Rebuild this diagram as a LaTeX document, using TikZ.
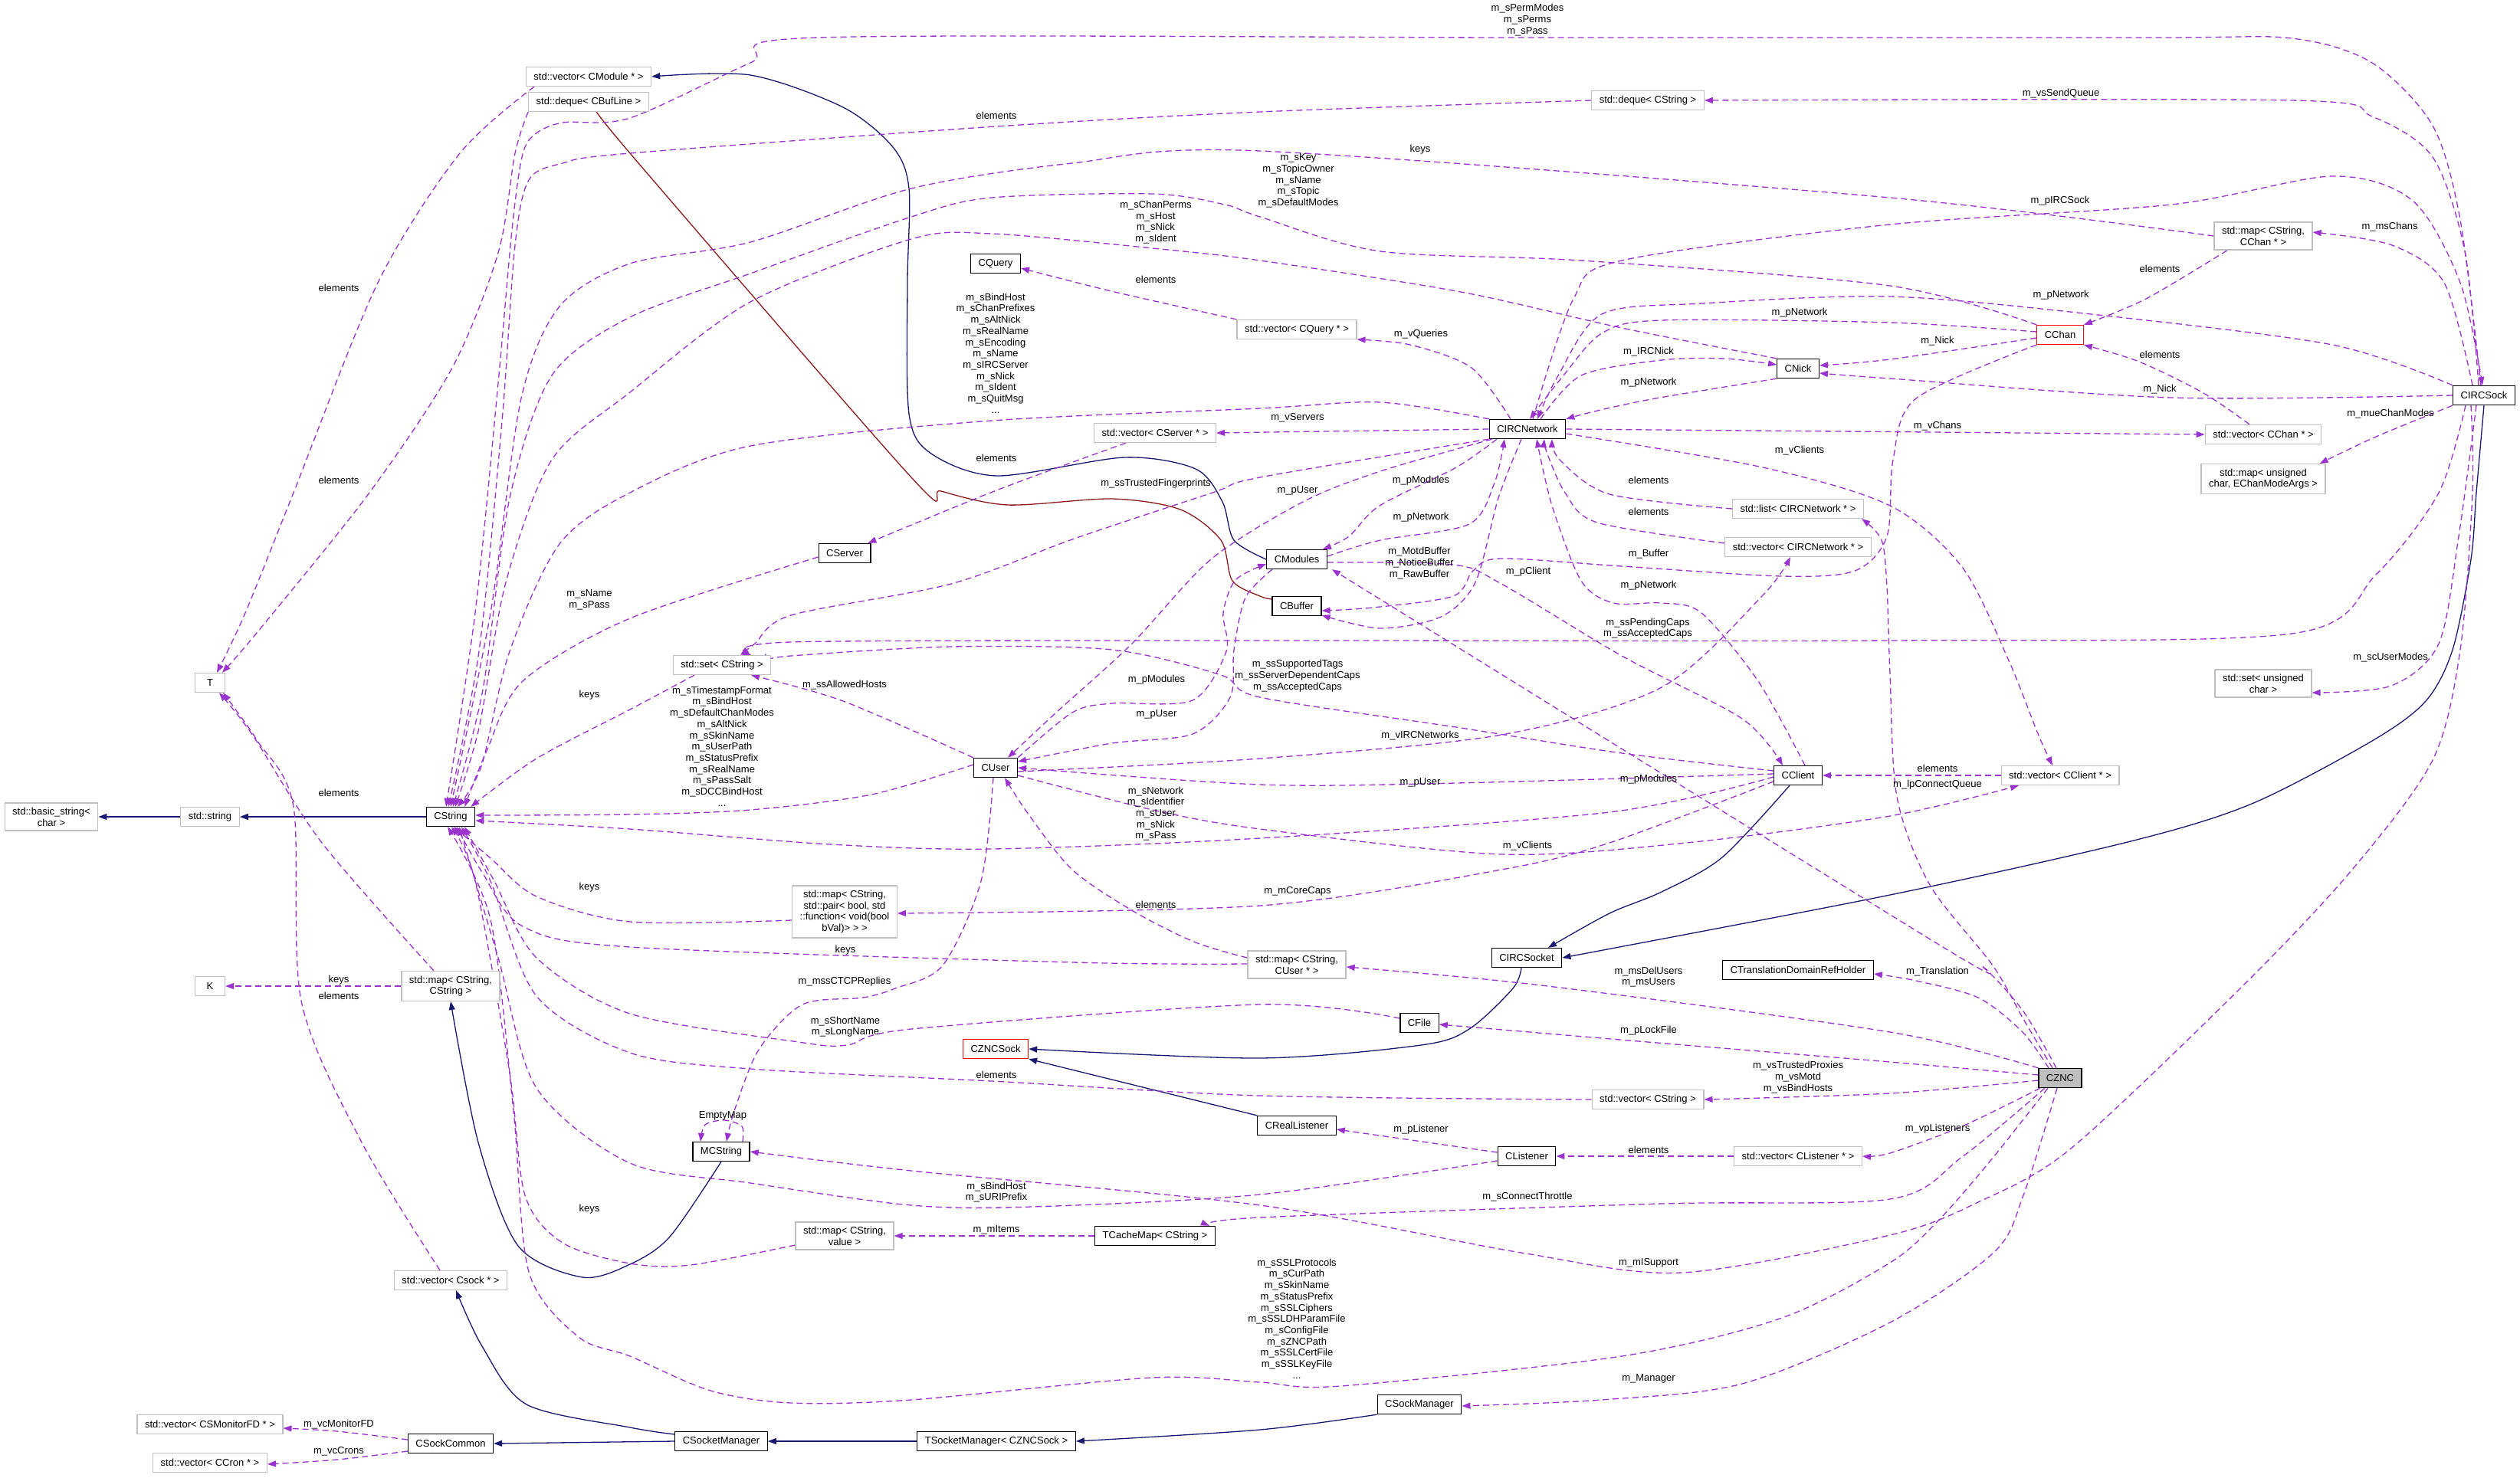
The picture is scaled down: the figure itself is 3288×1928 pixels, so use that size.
\documentclass[tikz,border=0pt]{standalone}
\usepackage{fontspec}
\setmainfont{Liberation Sans}
\usetikzlibrary{arrows.meta,backgrounds}
\definecolor{dxPurple}{HTML}{9A32CD}
\definecolor{dxNavy}{HTML}{191970}
\definecolor{dxRed}{HTML}{8B1A1A}
\definecolor{dxGray}{HTML}{BFBFBF}
\newcommand{\dxfont}{\fontsize{13}{14.7}\selectfont}
\tikzset{
  cls/.style={draw=black, line width=1.3pt, fill=white, font=\dxfont, align=center,
    inner xsep=10pt, inner ysep=6pt, minimum height=25pt},
  ext/.style={cls, draw=dxGray},
  incomplete/.style={cls, draw=red},
  focus/.style={cls, fill=dxGray},
  lab/.style={font=\dxfont, align=center, inner sep=0pt},
  mem/.style={dxPurple, line width=1.3pt, dash pattern=on 8pt off 5pt,
    -{Triangle[length=11pt,width=8pt]}},
  inh/.style={dxNavy, line width=1.3pt, -{Triangle[length=11pt,width=8pt]}},
  prot/.style={inh, dxRed},
}
\begin{document}
\begin{tikzpicture}[x=1pt, y=-1pt]
    \useasboundingbox (0,0) rectangle (3288,1928);
    % string side
    \node[ext] (basicstr) at (67,1066) {std::basic\_string<\\ char >};
    \node[ext] (stdstr) at (274,1066) {std::string};
    \node[ext, minimum width=39pt] (T) at (274,891) {T};
    \node[ext, minimum width=39pt] (K) at (274,1287) {K};
    \node[ext] (vecMonitor) at (274,1859) {std::vector< CSMonitorFD * >};
    \node[ext] (vecCron) at (274,1909) {std::vector< CCron * >};
    \node[cls] (CString) at (588,1066) {CString};
    \node[ext] (mapStr) at (588,1287) {std::map< CString,\\ CString >};
    \node[ext] (vecSock) at (588,1671) {std::vector< Csock * >};
    \node[cls] (CSockCommon) at (588,1884) {CSockCommon};
    \node[ext] (vecModule) at (768,100) {std::vector< CModule * >};
    \node[ext] (dequeBufLine) at (768,133) {std::deque< CBufLine >};
    \node[ext] (setStr) at (942,868) {std::set< CString >};
    \node[cls] (MCString) at (941,1503) {MCString};
    \node[cls] (CSocketManager) at (941,1881) {CSocketManager};
    \node[cls] (CServer) at (1102,722) {CServer};
    \node[ext] (mapCaps) at (1102,1190) {std::map< CString,\\ std::pair< bool, std\\ ::function< void(bool\\ bVal)> > >};
    \node[ext] (mapValue) at (1102,1613) {std::map< CString,\\ value >};
    \node[cls] (CQuery) at (1299,344) {CQuery};
    \node[cls] (CUser) at (1299,1002) {CUser};
    \node[incomplete] (CZNCSock) at (1299,1369) {CZNCSock};
    \node[cls] (TSocketManager) at (1300,1881) {TSocketManager< CZNCSock >};
    \node[ext] (vecServer) at (1507,565) {std::vector< CServer * >};
    \node[cls] (TCacheMap) at (1507,1613) {TCacheMap< CString >};
    \node[ext] (vecQuery) at (1692,430) {std::vector< CQuery * >};
    \node[cls] (CModules) at (1692,730) {CModules};
    \node[cls] (CBuffer) at (1692,791) {CBuffer};
    \node[ext] (mapUser) at (1692,1259) {std::map< CString,\\ CUser * >};
    \node[cls] (CRealListener) at (1692,1469) {CRealListener};
    \node[cls] (CFile) at (1852,1335) {CFile};
    \node[cls] (CSockManager) at (1852,1833) {CSockManager};
    \node[cls] (CIRCNetwork) at (1993,560) {CIRCNetwork};
    \node[cls] (CIRCSocket) at (1992,1250) {CIRCSocket};
    \node[cls] (CListener) at (1992,1509) {CListener};
    \node[ext] (dequeStr) at (2150,131) {std::deque< CString >};
    \node[ext] (vecStr) at (2150,1435) {std::vector< CString >};
    \node[cls] (CNick) at (2346,481) {CNick};
    \node[ext] (listNet) at (2346,664) {std::list< CIRCNetwork * >};
    \node[ext] (vecNet) at (2346,714) {std::vector< CIRCNetwork * >};
    \node[cls] (CClient) at (2346,1012) {CClient};
    \node[cls] (CTDRH) at (2346,1266) {CTranslationDomainRefHolder};
    \node[ext] (vecListener) at (2346,1509) {std::vector< CListener * >};
    \node[incomplete] (CChan) at (2688,437) {CChan};
    \node[ext] (vecClient) at (2688,1012) {std::vector< CClient * >};
    \node[focus] (CZNC) at (2688,1407) {CZNC};
    \node[ext] (mapChan) at (2953,308) {std::map< CString,\\ CChan * >};
    \node[ext] (vecChan) at (2953,567) {std::vector< CChan * >};
    \node[ext] (mapModes) at (2953,625) {std::map< unsigned\\ char, EChanModeArgs >};
    \node[ext] (setUChar) at (2953,892) {std::set< unsigned\\ char >};
    \node[cls] (CIRCSock) at (3241,516) {CIRCSock};

    % member labels
    \node[lab] (mPerm) at (1993,26) {m\_sPermModes\\m\_sPerms\\m\_sPass};
    \node[lab] (mSendQ) at (2689,122) {m\_vsSendQueue};
    \node[lab] (eDequeStr) at (1300,151) {elements};
    \node[lab] (kMapChan) at (1853,195) {keys};
    \node[lab] (mChanStr) at (1694,236) {m\_sKey\\m\_sTopicOwner\\m\_sName\\m\_sTopic\\m\_sDefaultModes};
    \node[lab] (mIRCSock) at (2688,262) {m\_pIRCSock};
    \node[lab] (mNickStr) at (1508,290) {m\_sChanPerms\\m\_sHost\\m\_sNick\\m\_sIdent};
    \node[lab] (mMsChans) at (3118,296) {m\_msChans};
    \node[lab] (eMapChan) at (2818,351) {elements};
    \node[lab] (eVecQuery) at (1508,365) {elements};
    \node[lab] (eVecModule) at (442,376) {elements};
    \node[lab] (mNetSock) at (2689,385) {m\_pNetwork};
    \node[lab] (mNetChan) at (2348,408) {m\_pNetwork};
    \node[lab] (mQueries) at (1854,436) {m\_vQueries};
    \node[lab] (mNickChan) at (2528,445) {m\_Nick};
    \node[lab] (mIRCNick) at (2151,459) {m\_IRCNick};
    \node[lab] (mNetStr) at (1299,461) {m\_sBindHost\\m\_sChanPrefixes\\m\_sAltNick\\m\_sRealName\\m\_sEncoding\\m\_sName\\m\_sIRCServer\\m\_sNick\\m\_sIdent\\m\_sQuitMsg\\...};
    \node[lab] (eVecChan) at (2818,463) {elements};
    \node[lab] (mNetNick) at (2151,499) {m\_pNetwork};
    \node[lab] (mNickSock) at (2818,508) {m\_Nick};
    \node[lab] (mChanModes) at (3119,540) {m\_mueChanModes};
    \node[lab] (mServers) at (1693,545) {m\_vServers};
    \node[lab] (mChans) at (2528,556) {m\_vChans};
    \node[lab] (mClientsNet) at (2348,588) {m\_vClients};
    \node[lab] (eVecServer) at (1300,598) {elements};
    \node[lab] (mModNet) at (1854,627) {m\_pModules};
    \node[lab] (eListNet) at (2151,627) {elements};
    \node[lab] (eDequeBuf) at (442,627) {elements};
    \node[lab] (mFinger) at (1508,631) {m\_ssTrustedFingerprints};
    \node[lab] (mUserNet) at (1693,640) {m\_pUser};
    \node[lab] (eVecNet) at (2151,668) {elements};
    \node[lab] (mNetMod) at (1854,675) {m\_pNetwork};
    \node[lab] (mBufChan) at (2151,723) {m\_Buffer};
    \node[lab] (mBufNet) at (1852,735) {m\_MotdBuffer\\m\_NoticeBuffer\\m\_RawBuffer};
    \node[lab] (mClientMod) at (1994,746) {m\_pClient};
    \node[lab] (mNetClient) at (2151,764) {m\_pNetwork};
    \node[lab] (mServerStr) at (769,783) {m\_sName\\m\_sPass};
    \node[lab] (mCapsSock) at (2150,820) {m\_ssPendingCaps\\m\_ssAcceptedCaps};
    \node[lab] (mUserModes) at (3119,858) {m\_scUserModes};
    \node[lab] (mCapsClient) at (1693,882) {m\_ssSupportedTags\\m\_ssServerDependentCaps\\m\_ssAcceptedCaps};
    \node[lab] (mModUser) at (1509,887) {m\_pModules};
    \node[lab] (mHosts) at (1102,894) {m\_ssAllowedHosts};
    \node[lab] (kSetStr) at (769,907) {keys};
    \node[lab] (mUserMod) at (1509,932) {m\_pUser};
    \node[lab] (mIRCNets) at (1853,960) {m\_vIRCNetworks};
    \node[lab] (mUserStr) at (942,974) {m\_sTimestampFormat\\m\_sBindHost\\m\_sDefaultChanModes\\m\_sAltNick\\m\_sSkinName\\m\_sUserPath\\m\_sStatusPrefix\\m\_sRealName\\m\_sPassSalt\\m\_sDCCBindHost\\...};
    \node[lab] (eVecClient) at (2528,1003) {elements};
    \node[lab] (mModZNC) at (2151,1017) {m\_pModules};
    \node[lab] (mUserClient) at (1853,1021) {m\_pUser};
    \node[lab] (mConnQ) at (2528,1024) {m\_lpConnectQueue};
    \node[lab] (eMapStrT) at (442,1035) {elements};
    \node[lab] (mClientStr) at (1508,1062) {m\_sNetwork\\m\_sIdentifier\\m\_sUser\\m\_sNick\\m\_sPass};
    \node[lab] (mClientsUser) at (1993,1104) {m\_vClients};
    \node[lab] (kMapCaps) at (769,1158) {keys};
    \node[lab] (mCoreCaps) at (1693,1163) {m\_mCoreCaps};
    \node[lab] (eMapUser) at (1508,1181) {elements};
    \node[lab] (kMapUser) at (1103,1240) {keys};
    \node[lab] (mTransl) at (2528,1268) {m\_Translation};
    \node[lab] (mUsers) at (2151,1275) {m\_msDelUsers\\m\_msUsers};
    \node[lab] (kMapStrK) at (442,1279) {keys};
    \node[lab] (mCTCP) at (1102,1281) {m\_mssCTCPReplies};
    \node[lab] (eVecSock) at (442,1300) {elements};
    \node[lab] (mFileStr) at (1103,1340) {m\_sShortName\\m\_sLongName};
    \node[lab] (mLockFile) at (2151,1345) {m\_pLockFile};
    \node[lab] (eVecStr) at (1300,1403) {elements};
    \node[lab] (mVecStrZNC) at (2346,1406) {m\_vsTrustedProxies\\m\_vsMotd\\m\_vsBindHosts};
    \node[lab] (mEmpty) at (943,1456) {EmptyMap};
    \node[lab] (mListeners) at (2528,1473) {m\_vpListeners};
    \node[lab] (mListener) at (1854,1474) {m\_pListener};
    \node[lab] (eVecListener) at (2151,1501) {elements};
    \node[lab] (mListenStr) at (1300,1556) {m\_sBindHost\\m\_sURIPrefix};
    \node[lab] (mThrottle) at (1993,1562) {m\_sConnectThrottle};
    \node[lab] (kMapValue) at (769,1578) {keys};
    \node[lab] (mItems) at (1300,1605) {m\_mItems};
    \node[lab] (mISupport) at (2151,1648) {m\_mISupport};
    \node[lab] (mZNCStr) at (1692,1721) {m\_sSSLProtocols\\m\_sCurPath\\m\_sSkinName\\m\_sStatusPrefix\\m\_sSSLCiphers\\m\_sSSLDHParamFile\\m\_sConfigFile\\m\_sZNCPath\\m\_sSSLCertFile\\m\_sSSLKeyFile\\...};
    \node[lab] (mManager) at (2151,1799) {m\_Manager};
    \node[lab] (mMonitor) at (442,1859) {m\_vcMonitorFD};
    \node[lab] (mCrons) at (442,1894) {m\_vcCrons};

    \begin{pgfonlayer}{background}
    \fill[white] (0,0) rectangle (3288,1928);
    % inheritance
    \draw[inh] (stdstr) -- (basicstr);
    \draw[inh] (CString) -- (stdstr);
    \draw[inh] plot[smooth] coordinates {(MCString.south) (874,1614) (822,1650) (760,1667) (676,1626) (624,1491) (mapStr.south)};
    \draw[inh] plot[smooth] coordinates {([yshift=9pt]CSocketManager.west) (822,1863) (687,1833) (629,1757) ([xshift=7pt]vecSock.south)};
    \draw[inh] (CSocketManager.west) -- (CSockCommon.east);
    \draw[inh] (TSocketManager) -- (CSocketManager);
    \draw[inh] plot[smooth] coordinates {(CSockManager.south west) (1644,1866) (TSocketManager.east)};
    \draw[inh] plot[smooth, tension=.5] coordinates {(CModules.west) (1610,705) (1595,655) (1560,612) (1467,597) (1301,621) (1215,592) (1186,540) (1184,369) (1186,246) (1165,192) (1100,140) (979,98) (vecModule.east)};
    \draw[prot] plot[smooth, tension=.5] coordinates {([yshift=9pt]CBuffer.west) (1644,778) (1608,758) (1593,705) (1540,665) (1451,651) (1315,659) (1228,641) (1189,623) (822,200) ([xshift=13pt]dequeBufLine.south)};
    \draw[inh] plot[smooth] coordinates {(CIRCSock.south) (3231,643) (3224,730) (3200,848) (3165,915) (3095,967) (2938,1049) (2780,1098) (2466,1168) (CIRCSocket.east)};
    \draw[inh] plot[smooth] coordinates {([xshift=-11pt]CClient.south) (2247,1119) (2168,1164) (2100,1192) ([xshift=28pt]CIRCSocket.north)};
    \draw[inh] plot[smooth] coordinates {([xshift=-7pt]CIRCSocket.south) (1974,1290) (1917,1343) (1854,1364) (1644,1381) (CZNCSock.east)};
    \draw[inh] (CRealListener.north west) -- (CZNCSock.south east);

    % members into CString
    \draw[mem] plot[smooth] coordinates {([xshift=-4pt]CIRCSock.north) (3210,287) (3174,164) (3095,82) (2990,50) (2800,49) (1993,49) (1068,49) (979,82) (822,154) (734,160) (697,176) (681,205) (668,300) (650,500) (620,800) ([xshift=-6pt]CString.north)};
    \draw[mem] plot[smooth] coordinates {(dequeStr.west) (1644,146) (1300,165) (822,200) (734,213) (690,235) (672,320) (655,550) (625,850) ([xshift=-3pt]CString.north)};
    \draw[mem] plot[smooth] coordinates {(mapChan.west) (2466,258) (1644,197) (1399,213) (1189,246) (979,316) (822,344) (730,400) (680,520) (640,800) (CString.north)};
    \draw[mem] plot[smooth] coordinates {(CChan.north west) (2466,373) (2063,340) (1801,328) (1644,283) (1598,267) (1504,253) (1294,258) (1189,283) (979,357) (822,414) (720,490) (665,650) (630,900) ([xshift=3pt]CString.north)};
    \draw[mem] plot[smooth] coordinates {(CNick.north west) (2116,428) (1906,381) (1644,340) (1504,324) (1294,305) (1189,312) (979,394) (822,512) (720,600) (660,760) (625,950) ([xshift=6pt]CString.north)};
    \draw[mem] plot[smooth] coordinates {(CIRCNetwork.north west) (1801,525) (1644,533) (1294,549) (979,582) (822,643) (730,710) (665,850) (628,1000) ([xshift=9pt]CString.north)};
    \draw[mem] plot[smooth] coordinates {([yshift=-5pt]CServer.west) (822,807) (682,889) (635,980) ([xshift=-14pt]CString.north east)};
    \draw[mem] plot[smooth] coordinates {([xshift=-36pt]setStr.south) (822,926) (700,990) ([xshift=-6pt]CString.north east)};
    \draw[mem] plot[smooth] coordinates {([yshift=4pt]CUser.west) (1137,1037) (979,1057) (822,1063) ([yshift=2pt]CString.east)};
    \draw[mem] plot[smooth] coordinates {([yshift=-2pt]CClient.west) (2100,1060) (1644,1094) (1294,1108) (1084,1102) (822,1082) ([yshift=-5pt]CString.east)};
    \draw[mem] plot[smooth] coordinates {([yshift=-11pt]mapCaps.west) (822,1203) (700,1170) (640,1120) ([xshift=4pt]CString.south)};
    \draw[mem] plot[smooth] coordinates {([yshift=1pt]mapUser.west) (1400,1256) (822,1236) (682,1209) (630,1140) ([xshift=8pt]CString.south)};
    \draw[mem] plot[smooth] coordinates {([yshift=6pt]CFile.west) (1644,1311) (1189,1343) (1105,1364) (1042,1360) (822,1323) (700,1250) (645,1150) ([xshift=18pt]CString.south)};
    \draw[mem] plot[smooth] coordinates {(vecStr.west) (1644,1430) (1294,1411) (979,1395) (822,1374) (700,1300) (640,1150) ([xshift=14pt]CString.south)};
    \draw[mem] plot[smooth] coordinates {([yshift=-6pt]CListener.west) (1644,1559) (1346,1575) (1189,1573) (979,1544) (822,1518) (700,1420) (650,1250) ([xshift=11pt]CString.south)};
    \draw[mem] plot[smooth] coordinates {([yshift=-12pt]mapValue.west) (901,1651) (822,1649) (734,1622) (685,1560) (665,1400) (620,1150) ([xshift=1pt]CString.south)};
    \draw[mem] plot[smooth] coordinates {([xshift=-16pt]CZNC.south) (2597,1515) (2529,1593) (2466,1648) (2325,1720) (2116,1770) (1749,1809) (1644,1804) (1503,1798) (1189,1827) (1032,1831) (927,1815) (822,1770) (755,1745) (690,1660) (670,1450) (640,1200) ([xshift=-4pt]CString.south)};

    % members into T and K
    \draw[mem] plot[smooth] coordinates {([xshift=-71pt]vecModule.south) (600,200) (493,369) (383,643) (320,800) ([xshift=9pt]T.north)};
    \draw[mem] plot[smooth] coordinates {(dequeBufLine.south west) (672,200) (650,330) (590,480) (482,643) (340,820) ([xshift=16pt]T.north)};
    \draw[mem] plot[smooth] coordinates {([xshift=-22pt]mapStr.north) (420,1100) (330,960) ([xshift=12pt]T.south)};
    \draw[mem] plot[smooth] coordinates {([xshift=-14pt]vecSock.north) (472,1491) (393,1306) (383,1053) (336,967) ([xshift=17pt]T.south)};
    \draw[mem] (mapStr.west) -- (K.east);

    % CIRCSock
    \draw[mem] plot[smooth] coordinates {([xshift=-7pt]CIRCSock.north) (3216,328) (3174,205) (3095,152) (2990,131) (dequeStr.east)};
    \draw[mem] plot[smooth] coordinates {([xshift=-15pt]CIRCSock.north) (3189,369) (3121,320) ([yshift=5pt]mapChan.east)};
    \draw[mem] plot[smooth] coordinates {([xshift=7pt]CIRCNetwork.north) (2053,390) (2116,340) (2466,293) (2833,267) (3043,230) (3148,262) (3210,369) ([xshift=-2pt]CIRCSock.north)};
    \draw[mem] plot[smooth] coordinates {(CIRCSock.north west) (3043,450) (2728,410) (2466,387) (2221,396) (2090,410) (2032,492) ([xshift=13pt]CIRCNetwork.north)};
    \draw[mem] plot[smooth] coordinates {(CIRCSock.west) (2833,519) (2466,494) ([yshift=-6pt]CNick.east)};
    \draw[mem] plot[smooth] coordinates {(CIRCSock.south west) (3100,570) ([xshift=-8pt]mapModes.north east)};
    \draw[mem] plot[smooth] coordinates {([xshift=-10pt]CIRCSock.south) (3208,700) (3182,840) (3120,895) ([yshift=-12pt]setUChar.east)};
    \draw[mem] plot[smooth] coordinates {([xshift=-24pt]CIRCSock.south) (3182,643) (3100,750) (2990,827) (2466,836) (1644,836) (1032,838) ([xshift=38pt]setStr.north)};
    \draw[mem] plot[smooth] coordinates {([xshift=-17pt]CIRCSock.south) (3226,643) (3210,848) (3174,992) (3069,1135) (2927,1286) (2702,1499) (2581,1569) (2466,1612) (2194,1661) (1985,1635) (1644,1573) (1189,1528) (MCString.east)};

    % CChan
    \draw[mem] plot[smooth] coordinates {([yshift=4pt]CChan.west) (2466,421) (2168,418) (2090,435) (2040,490) ([xshift=3pt]CIRCNetwork.north)};
    \draw[mem] plot[smooth] coordinates {([yshift=-4pt]CChan.west) (2466,469) ([yshift=4pt]CNick.east)};
    \draw[mem] plot[smooth] coordinates {(CChan.south west) (2500,520) (2470,600) (2462,700) (2420,745) (2325,752) (2116,739) (1958,729) (1922,745) (1896,778) (1791,793) ([yshift=-6pt]CBuffer.east)};
    \draw[mem] plot[smooth] coordinates {([xshift=-47pt]mapChan.south) (2800,390) (CChan.north east)};
    \draw[mem] plot[smooth] coordinates {([xshift=-18pt]vecChan.north) (2875,513) (2791,472) (CChan.south east)};

    % CIRCNetwork
    \draw[mem] plot[smooth] coordinates {([xshift=17pt]CIRCNetwork.north) (2063,490) (2168,470) (2250,468) ([yshift=5pt]CNick.west)};
    \draw[mem] plot[smooth] coordinates {(CNick.south west) (2160,520) (2080,537) (CIRCNetwork.north east)};
    \draw[mem] plot[smooth] coordinates {([xshift=-22pt]CIRCNetwork.north) (1920,480) (1840,450) (vecQuery.south east)};
    \draw[mem] plot[smooth] coordinates {(vecQuery.north west) (1450,380) ([yshift=-6pt]CQuery.east)};
    \draw[mem] (CIRCNetwork.west) -- (vecServer.east);
    \draw[mem] plot[smooth] coordinates {([xshift=-38pt]vecServer.south) (1300,640) ([xshift=-4pt]CServer.north east)};
    \draw[mem] plot[smooth] coordinates {(CIRCNetwork.south west) (1644,623) (1582,643) (1399,704) (1241,762) (1032,803) (985,840) ([xshift=24pt]setStr.north)};
    \draw[mem] plot[smooth] coordinates {([xshift=-46pt]CIRCNetwork.south) (1801,615) (1700,655) (1580,730) (1477,840) (1378,930) ([xshift=16pt]CUser.north)};
    \draw[mem] plot[smooth] coordinates {([xshift=-40pt]CIRCNetwork.south) (1900,610) (1800,660) (1760,700) ([xshift=-6pt]CModules.north east)};
    \draw[mem] plot[smooth] coordinates {([yshift=4pt]CModules.east) (1801,705) (1917,684) (1950,630) ([xshift=-30pt]CIRCNetwork.south)};
    \draw[mem] plot[smooth] coordinates {([xshift=-8pt]CIRCNetwork.south) (1955,650) (1925,760) (1880,805) (1801,820) ([yshift=-12pt]CBuffer.east)};
    \draw[mem] plot[smooth] coordinates {([yshift=-6pt]CIRCNetwork.east) (2300,610) (2466,660) (2560,740) (2620,860) (2660,960) ([xshift=-10pt]vecClient.north)};
    \draw[mem] (CIRCNetwork.east) -- (vecChan.west);
    \draw[mem] plot[smooth] coordinates {(listNet.west) (2100,645) (2035,600) ([xshift=32pt]CIRCNetwork.south)};
    \draw[mem] plot[smooth] coordinates {([yshift=5pt]vecNet.west) (2084,682) (2042,643) (2018,590) ([xshift=22pt]CIRCNetwork.south)};
    \draw[mem] plot[smooth] coordinates {([xshift=9pt]CClient.north) (2294,889) (2220,800) (2168,787) (2105,787) (2063,758) (2025,660) ([xshift=12pt]CIRCNetwork.south)};
    \draw[mem] plot[smooth] coordinates {([yshift=-4pt]CModules.east) (1896,737) (1959,762) (2116,856) (2273,938) ([xshift=-20pt]CClient.north)};

    % CUser and CClient
    \draw[mem] plot[smooth] coordinates {([yshift=-5pt]CUser.east) (1644,990) (1959,959) (2168,897) (2299,778) ([xshift=-10pt]vecNet.south)};
    \draw[mem] plot[smooth] coordinates {([yshift=-10pt]CUser.east) (1504,1057) (1644,1082) (1959,1115) (2200,1100) (2466,1065) ([xshift=-54pt]vecClient.south)};
    \draw[mem] (vecClient) -- (CClient);
    \draw[mem] plot[smooth] coordinates {(CUser.north east) (1399,930) (1451,918) (1556,914) (1600,850) (1596,800) (1612,757) ([yshift=-6pt]CModules.west)};
    \draw[mem] plot[smooth] coordinates {([xshift=8pt]CModules.south west) (1625,780) (1610,848) (1605,910) (1556,958) (1451,970) ([yshift=8pt]CUser.east)};
    \draw[mem] plot[smooth] coordinates {([yshift=2pt]CClient.west) (1900,1022) (1644,1024) (CUser.east)};
    \draw[mem] plot[smooth] coordinates {([yshift=6pt]CClient.west) (2116,983) (1906,950) (1644,910) (1593,881) (1451,848) (1241,844) (1032,856) ([yshift=6pt]setStr.east)};
    \draw[mem] plot[smooth] coordinates {(CUser.north west) (1100,915) ([xshift=38pt]setStr.south)};
    \draw[mem] plot[smooth] coordinates {([xshift=-3pt]CUser.south) (1280,1150) (1230,1260) (1168,1290) (1126,1302) (1047,1311) (990,1370) (958,1450) ([xshift=7pt]MCString.north)};
    \draw[mem] plot[smooth] coordinates {([xshift=28pt]MCString.north) (968,1470) (945,1462) (920,1468) ([xshift=-27pt]MCString.north)};
    \draw[mem] plot[smooth] coordinates {([yshift=-8pt]CClient.west) (2100,1100) (1959,1135) (1644,1182) ([yshift=-2pt]mapCaps.east)};
    \draw[mem] plot[smooth] coordinates {([yshift=9pt]mapUser.west) (1560,1230) (1480,1190) (1399,1135) (1340,1060) ([xshift=12pt]CUser.south)};

    % CZNC
    \draw[mem] (TCacheMap) -- (mapValue);
    \draw[mem] plot[smooth] coordinates {([xshift=-20pt]CZNC.south) (2560,1510) (2466,1565) (2168,1571) (1644,1589) ([xshift=-8pt]TCacheMap.north east)};
    \draw[mem] plot[smooth] coordinates {([xshift=-26pt]CZNC.south) (2560,1470) (2466,1505) (vecListener.east)};
    \draw[mem] (vecListener) -- (CListener);
    \draw[mem] ([yshift=5pt]CListener.west) -- ([yshift=-5pt]CRealListener.east);
    \draw[mem] plot[smooth] coordinates {([yshift=-3pt]CZNC.west) (2466,1427) (vecStr.east)};
    \draw[mem] plot[smooth] coordinates {([yshift=4pt]CZNC.west) (2466,1386) (2150,1360) ([yshift=-2pt]CFile.east)};
    \draw[mem] plot[smooth] coordinates {(CZNC.north west) (2466,1347) (2011,1286) ([yshift=-3pt]mapUser.east)};
    \draw[mem] plot[smooth] coordinates {([xshift=-15pt]CZNC.north) (2639,1347) (2581,1302) (2500,1280) ([yshift=-5pt]CTDRH.east)};
    \draw[mem] plot[smooth] coordinates {([xshift=-10pt]CZNC.north) (2640,1330) (2600,1260) (2518,1155) (2475,1040) (2466,880) (2462,766) (2455,705) ([xshift=-3pt]listNet.south east)};
    \draw[mem] plot[smooth] coordinates {([xshift=-5pt]CZNC.north) (2640,1320) (2587,1262) (2530,1233) ([xshift=6pt]CModules.south east)};
    \draw[mem] plot[smooth] coordinates {([xshift=-4pt]CZNC.south) (2640,1560) (2602,1634) (2466,1726) (2273,1806) (2090,1827) ([yshift=-2pt]CSockManager.east)};

    % CSockCommon
    \draw[mem] plot[smooth] coordinates {([yshift=5pt]CSockCommon.west) (440,1868) ([yshift=-5pt]vecMonitor.east)};
    \draw[mem] plot[smooth] coordinates {([yshift=-10pt]CSockCommon.west) (440,1905) ([yshift=-2pt]vecCron.east)};
    \end{pgfonlayer}
\end{tikzpicture}
\end{document}
